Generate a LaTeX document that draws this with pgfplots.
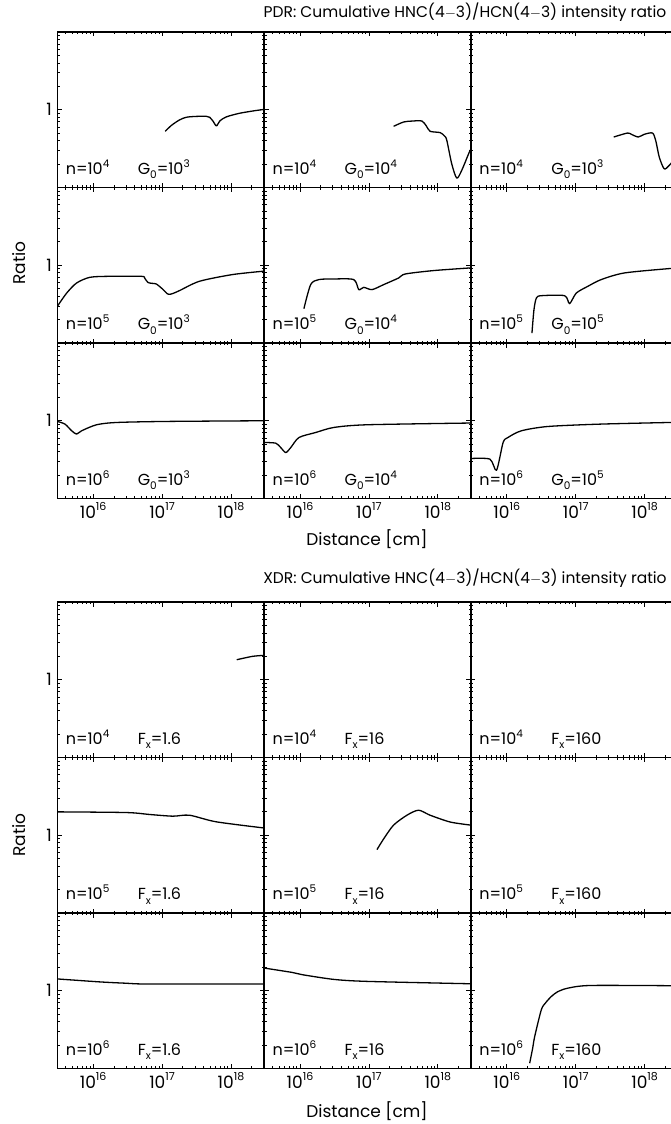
\documentclass[border=0pt]{standalone}
\usepackage{pgfplots}
\pgfplotsset{compat=1.18}
\usepackage{fontspec}
\setmainfont{Poppins}
\newcommand{\up}[1]{\raisebox{0.45em}{\fontsize{10.5}{10.5}\selectfont #1}}
\newcommand{\dn}[1]{\raisebox{-0.28em}{\fontsize{10.5}{10.5}\selectfont #1}}
\newcommand{\tup}[1]{\raisebox{0.45em}{\fontsize{11}{11}\selectfont #1}}
\newcommand{\tickfont}{\fontsize{17}{18}\selectfont}
\newcommand{\labfont}{\fontsize{16}{17}\selectfont}
\newcommand{\axlabfont}{\fontsize{17}{18}\selectfont}
\newcommand{\titfont}{\fontsize{15.5}{17}\selectfont}
\newenvironment{panel}[1]{\begin{axis}[
    scale only axis, width=206.8pt, height=155.5pt, anchor=north west,
    xmode=log, ymode=log, xmin=3.02e15, xmax=3.02e18, ymin=0.1, ymax=10,
    xtick={1e16,1e17,1e18},
    minor xtick={4e15,5e15,6e15,7e15,8e15,9e15,2e16,3e16,4e16,5e16,6e16,7e16,8e16,9e16,2e17,3e17,4e17,5e17,6e17,7e17,8e17,9e17,2e18,3e18},
    ytick={0.1,1,10},
    minor ytick={0.2,0.3,0.4,0.5,0.6,0.7,0.8,0.9,2,3,4,5,6,7,8,9},
    xticklabels={}, yticklabels={},
    tick pos=both, tick align=inside,
    major tick length=4.5pt, minor tick length=2.4pt,
    axis line style={line width=1.6pt},
    tick style={line width=0.8pt, black},
    xticklabel style={font=\tickfont, yshift=-0.5pt},
    yticklabel style={font=\tickfont, xshift=-2pt},
    #1]}{\end{axis}}
\pgfplotsset{mycurve/.style={black, line width=1.3pt, line join=round, mark=none, smooth, tension=0.45}}
\newcommand{\lab}[2]{%
  \node[anchor=base west, font=\labfont, inner sep=0pt] at (rel axis cs:0.04,0.084) {#1};
  \node[anchor=base west, font=\labfont, inner sep=0pt] at (rel axis cs:0.388,0.084) {#2};}
\begin{document}
\begin{tikzpicture}
\useasboundingbox (0pt,0pt) rectangle (670pt,-1124pt);
% ================= PDR =================
\node[font=\titfont] at (465pt,-12pt) {PDR: Cumulative HNC(4$-$3)/HCN(4$-$3) intensity ratio};
% row 1
\begin{panel}{at={(57.3pt,-32pt)}, yticklabels={,1,}}
\addplot[mycurve] coordinates {(1.11e17,0.528)(1.37e17,0.631)(1.79e17,0.74)(2.24e17,0.80)(3.0e17,0.82)(4.36e17,0.824)(4.9e17,0.80)(5.5e17,0.71)(6.14e17,0.62)(6.9e17,0.72)(8.55e17,0.81)(1.32e18,0.90)(2.17e18,0.97)(3.02e18,1.01)};
\lab{n=10\up{4}}{G\dn{0}=10\up{3}}
\end{panel}
\begin{panel}{at={(264.1pt,-32pt)}}
\addplot[mycurve] coordinates {(2.28e17,0.612)(3.19e17,0.696)(4.2e17,0.715)(5.86e17,0.717)(6.8e17,0.62)(7.74e17,0.528)(1.08e18,0.508)(1.25e18,0.46)(1.35e18,0.404)(1.59e18,0.202)(1.88e18,0.132)(2.22e18,0.166)(2.86e18,0.285)(3.02e18,0.31)};
\lab{n=10\up{4}}{G\dn{0}=10\up{4}}
\end{panel}
\begin{panel}{at={(470.9pt,-32pt)}}
\addplot[mycurve] coordinates {(3.56e17,0.446)(5.66e17,0.502)(6.5e17,0.48)(8.09e17,0.446)(9.87e17,0.483)(1.30e18,0.502)(1.45e18,0.40)(1.63e18,0.246)(1.92e18,0.174)(2.27e18,0.192)(3.02e18,0.26)};
\lab{n=10\up{4}}{G\dn{0}=10\up{3}}
\end{panel}
% row 2
\begin{panel}{at={(57.3pt,-187.5pt)}, yticklabels={,1,}}
\addplot[mycurve] coordinates {(3.02e15,0.296)(4.13e15,0.439)(5.75e15,0.591)(8.97e15,0.70)(1.75e16,0.721)(5.01e16,0.721)(5.6e16,0.68)(6.24e16,0.60)(7.2e16,0.585)(8.25e16,0.574)(1.0e17,0.50)(1.21e17,0.426)(1.4e17,0.43)(1.79e17,0.472)(3.48e17,0.622)(1.05e18,0.759)(3.02e18,0.84)};
\lab{n=10\up{5}}{G\dn{0}=10\up{3}}
\end{panel}
\begin{panel}{at={(264.1pt,-187.5pt)}}
\addplot[mycurve] coordinates {(1.14e16,0.276)(1.43e16,0.564)(1.88e16,0.654)(3.10e16,0.666)(6.03e16,0.654)(7.13e16,0.486)(8.41e16,0.52)(1.11e17,0.486)(1.64e17,0.564)(2.70e17,0.686)(3.37e17,0.772)(8.65e17,0.854)(3.02e18,0.925)};
\lab{n=10\up{5}}{G\dn{0}=10\up{4}}
\end{panel}
\begin{panel}{at={(470.9pt,-187.5pt)}}
\addplot[mycurve] coordinates {(2.32e16,0.134)(2.48e16,0.268)(2.69e16,0.379)(3.17e16,0.406)(6.89e16,0.406)(8.14e16,0.321)(1.02e17,0.439)(1.50e17,0.536)(2.34e17,0.654)(5.07e17,0.796)(2.27e18,0.906)(3.02e18,0.915)};
\lab{n=10\up{5}}{G\dn{0}=10\up{5}}
\end{panel}
% row 3
\begin{panel}{at={(57.3pt,-343pt)}, yticklabels={,1,}, xticklabels={10\tup{16},10\tup{17},10\tup{18}}}
\addplot[mycurve] coordinates {(3.02e15,0.98)(3.90e15,0.906)(4.88e15,0.743)(5.75e15,0.674)(6.80e15,0.743)(1.12e16,0.888)(2.18e16,0.95)(1.15e17,0.98)(3.02e18,1.0)};
\lab{n=10\up{6}}{G\dn{0}=10\up{3}}
\end{panel}
\begin{panel}{at={(264.1pt,-343pt)}, xticklabels={10\tup{16},10\tup{17},10\tup{18}}}
\addplot[mycurve] coordinates {(3.02e15,0.525)(4.46e15,0.515)(5.26e15,0.452)(6.22e15,0.390)(7.35e15,0.452)(9.68e15,0.609)(1.69e16,0.706)(3.10e16,0.82)(9.40e16,0.888)(3.02e18,0.935)};
\lab{n=10\up{6}}{G\dn{0}=10\up{4}}
\end{panel}
\begin{panel}{at={(470.9pt,-343pt)}, xticklabels={10\tup{16},10\tup{17},10\tup{18}}}
\addplot[mycurve] coordinates {(3.02e15,0.327)(5.69e15,0.321)(7.10e15,0.231)(8.85e15,0.525)(1.04e16,0.609)(1.63e16,0.743)(3.95e16,0.844)(2.34e17,0.906)(3.02e18,0.955)};
\lab{n=10\up{6}}{G\dn{0}=10\up{5}}
\end{panel}
\node[font=\axlabfont, rotate=90] at (19pt,-263pt) {Ratio};
\node[font=\axlabfont] at (367pt,-539pt) {Distance [cm]};
% ================= XDR =================
\node[font=\titfont] at (465pt,-578pt) {XDR: Cumulative HNC(4$-$3)/HCN(4$-$3) intensity ratio};
% row 1
\begin{panel}{at={(57.3pt,-602pt)}, yticklabels={,1,}}
\addplot[mycurve] coordinates {(1.21e18,1.81)(2.05e18,2.0)(3.02e18,2.06)};
\lab{n=10\up{4}}{F\dn{x}=1.6}
\end{panel}
\begin{panel}{at={(264.1pt,-602pt)}}
\lab{n=10\up{4}}{F\dn{x}=16}
\end{panel}
\begin{panel}{at={(470.9pt,-602pt)}}
\lab{n=10\up{4}}{F\dn{x}=160}
\end{panel}
% row 2
\begin{panel}{at={(57.3pt,-757.5pt)}, yticklabels={,1,}}
\addplot[mycurve] coordinates {(3.02e15,2.0)(3.04e16,1.96)(6.6e16,1.85)(1.43e17,1.76)(2.50e17,1.81)(6.07e17,1.49)(3.02e18,1.24)};
\lab{n=10\up{5}}{F\dn{x}=1.6}
\end{panel}
\begin{panel}{at={(264.1pt,-757.5pt)}}
\addplot[mycurve] coordinates {(1.31e17,0.654)(1.64e17,0.9)(2.28e17,1.35)(3.56e17,1.81)(5.25e17,2.10)(7.74e17,1.81)(1.51e18,1.48)(3.02e18,1.35)};
\lab{n=10\up{5}}{F\dn{x}=16}
\end{panel}
\begin{panel}{at={(470.9pt,-757.5pt)}}
\lab{n=10\up{5}}{F\dn{x}=160}
\end{panel}
% row 3
\begin{panel}{at={(57.3pt,-913pt)}, yticklabels={,1,}, xticklabels={10\tup{16},10\tup{17},10\tup{18}}}
\addplot[mycurve] coordinates {(3.02e15,1.42)(1.25e16,1.30)(3.0e16,1.25)(6.6e16,1.22)(3.02e18,1.22)};
\lab{n=10\up{6}}{F\dn{x}=1.6}
\end{panel}
\begin{panel}{at={(264.1pt,-913pt)}, xticklabels={10\tup{16},10\tup{17},10\tup{18}}}
\addplot[mycurve] coordinates {(3.02e15,1.96)(7.74e15,1.72)(1.08e16,1.61)(3.10e16,1.40)(9.40e16,1.32)(3.02e18,1.23)};
\lab{n=10\up{6}}{F\dn{x}=16}
\end{panel}
\begin{panel}{at={(470.9pt,-913pt)}, xticklabels={10\tup{16},10\tup{17},10\tup{18}}}
\addplot[mycurve] coordinates {(2.15e16,0.117)(2.38e16,0.184)(2.54e16,0.257)(3.17e16,0.569)(3.66e16,0.70)(4.43e16,0.844)(5.46e16,0.97)(7.69e16,1.08)(1.68e17,1.17)(3.02e18,1.16)};
\lab{n=10\up{6}}{F\dn{x}=160}
\end{panel}
\node[font=\axlabfont, rotate=90] at (19pt,-835pt) {Ratio};
\node[font=\axlabfont] at (367pt,-1111pt) {Distance [cm]};
\end{tikzpicture}
\end{document}
